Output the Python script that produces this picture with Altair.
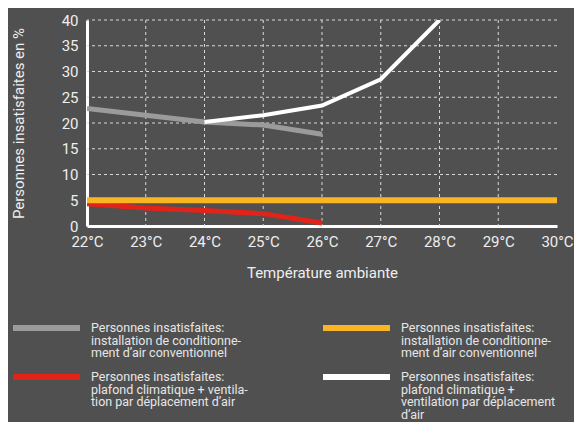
import altair as alt
import pandas as pd

# ---- data ----
temps_all = [22, 23, 24, 25, 26, 27, 28, 29, 30]
grid_x = [23, 24, 25, 26, 27, 28, 29]
gray_t = [22, 23, 24, 25, 26]
gray_v = [22.8, 21.5, 20.2, 19.6, 17.8]
white_t = [24, 25, 26, 27, 28]
white_v = [20.2, 21.5, 23.4, 28.5, 40.0]
red_t = [22, 23, 24, 25, 26]
red_v = [4.3, 3.5, 3.0, 2.4, 0.6]
orange_t = [22, 23, 24, 25, 26, 27, 28, 29, 30]
orange_v = [5, 5, 5, 5, 5, 5, 5, 5, 5]
y_ticks = [0, 5, 10, 15, 20, 25, 30, 35, 40]
grid_y = [5, 10, 15, 20, 25, 30, 35, 40]

series_ids = ["gray", "red", "orange", "white"]
series_labels = [
    "Personnes insatisfaites:\ninstallation de conditionne-\nment d\u2019air conventionnel",
    "Personnes insatisfaites:\nplafond climatique + ventila-\ntion par d\u00e9placement d\u2019air",
    "Personnes insatisfaites:\ninstallation de conditionne-\nment d\u2019air conventionnel",
    "Personnes insatisfaites:\nplafond climatique +\nventilation par d\u00e9placement\nd\u2019air",
]
legend_col = [0, 0, 1, 1]
legend_row = [0, 1, 0, 1]

colors = {"gray": "#9b9b9b", "red": "#e2231a", "orange": "#f9b522", "white": "#ffffff"}
widths = {"gray": 5, "red": 5, "orange": 6, "white": 4}

BG = "#505050"
FONT = "Roboto"
TXT = "#eeeeee"
GRID = "#d8d8d8"

W, H = 470, 206

frames = {
    "gray": pd.DataFrame({"t": gray_t, "v": gray_v}),
    "white": pd.DataFrame({"t": white_t, "v": white_v}),
    "red": pd.DataFrame({"t": red_t, "v": red_v}),
    "orange": pd.DataFrame({"t": orange_t, "v": orange_v}),
}

xscale = alt.Scale(domain=[22, 30], nice=False)
yscale = alt.Scale(domain=[0, 40], nice=False)

xaxis = alt.Axis(
    values=temps_all, labelExpr="datum.value + '°C'", title="Température ambiante",
    grid=False, labelFlush=False,
    domainColor="#ffffff", domainWidth=3, ticks=False, tickSize=0,
    labelPadding=8, titlePadding=16, labelFont=FONT, titleFont=FONT,
    labelFontSize=15, titleFontSize=15, labelColor=TXT, titleColor=TXT,
    labelFontWeight="normal", titleFontWeight="normal",
)
yaxis = alt.Axis(
    values=y_ticks, title="Personnes insatisfaites en %",
    grid=False, labelFlush=False,
    domainColor="#ffffff", domainWidth=3, ticks=False, tickSize=0,
    labelPadding=9, titlePadding=35, labelFont=FONT, titleFont=FONT,
    labelFontSize=15, titleFontSize=15, labelColor=TXT, titleColor=TXT,
    labelFontWeight="normal", titleFontWeight="normal",
)

vgrid = alt.Chart(pd.DataFrame({"t": grid_x})).mark_rule(
    color=GRID, strokeWidth=1, strokeDash=[3, 3]
).encode(x=alt.X("t:Q", scale=xscale, axis=xaxis))
hgrid = alt.Chart(pd.DataFrame({"v": grid_y})).mark_rule(
    color=GRID, strokeWidth=1, strokeDash=[3, 3]
).encode(y=alt.Y("v:Q", scale=yscale, axis=yaxis))

layers = [vgrid, hgrid]
for key in ["gray", "white", "red", "orange"]:
    layers.append(
        alt.Chart(frames[key]).mark_line(
            color=colors[key], strokeWidth=widths[key], strokeCap="butt", clip=True
        ).encode(
            x=alt.X("t:Q", scale=xscale, axis=xaxis),
            y=alt.Y("v:Q", scale=yscale, axis=yaxis),
        )
    )
main = alt.layer(*layers)

# ---- custom legend below the plot (own scales) ----
leg = pd.DataFrame({
    "id": series_ids, "label": series_labels, "col": legend_col, "row": legend_row,
})
lx = alt.Scale(domain=[0, 1], range=[-74, 236])
ly = alt.Scale(domain=[0, 1], range=[308, 357])
cscale = alt.Scale(domain=series_ids, range=[colors[k] for k in series_ids])

sw = alt.Chart(leg).mark_tick(orient="horizontal", size=67, thickness=6, xOffset=33.5, opacity=1).encode(
    x=alt.X("col:Q", scale=lx, axis=None),
    y=alt.Y("row:Q", scale=ly, axis=None),
    color=alt.Color("id:N", scale=cscale, legend=None),
)
tx = alt.Chart(leg).mark_text(
    align="left", baseline="alphabetic", dx=78, dy=4, font=FONT, fontSize=12.5, lineHeight=12.5,
    lineBreak="\n", color="#e6e6e6",
).encode(
    x=alt.X("col:Q", scale=lx, axis=None),
    y=alt.Y("row:Q", scale=ly, axis=None),
    text="label:N",
)
legend = alt.layer(sw, tx)

chart = alt.layer(main, legend).resolve_scale(
    x="independent", y="independent", color="independent"
).properties(
    width=W, height=H, background=BG,
    autosize=alt.AutoSizeParams(type="none"),
    padding={"left": 79, "top": 12, "right": 17, "bottom": 196},
).configure_view(stroke=None)

chart.save("out.html", embed_options={"renderer": "svg", "actions": False})
